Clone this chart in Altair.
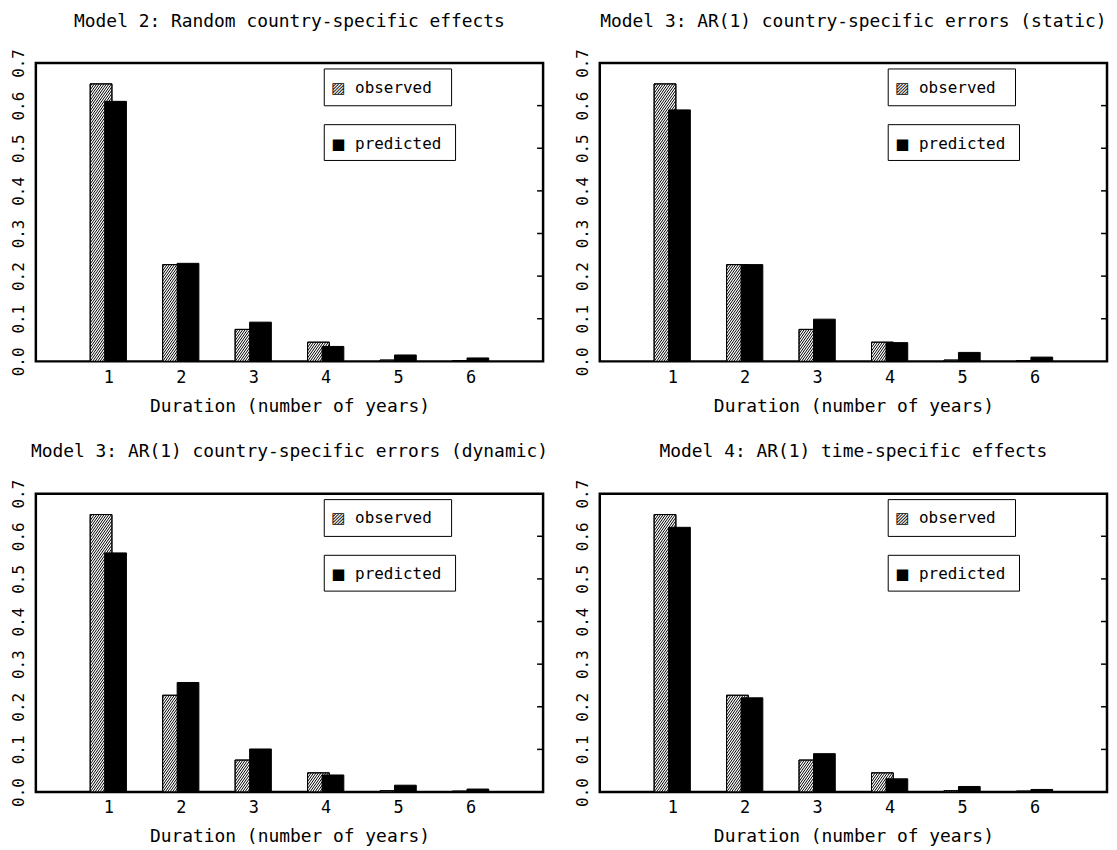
import math
import pandas as pd
import altair as alt

# ---------------- data ----------------
durations = [1, 2, 3, 4, 5, 6]
observed = [0.651, 0.227, 0.075, 0.045, 0.003, 0.002]
predicted_m2 = [0.610, 0.230, 0.092, 0.035, 0.015, 0.008]
predicted_m3_static = [0.590, 0.227, 0.099, 0.044, 0.021, 0.010]
predicted_m3_dynamic = [0.561, 0.257, 0.101, 0.040, 0.016, 0.007]
predicted_m4 = [0.621, 0.221, 0.090, 0.031, 0.013, 0.006]
titles = [
    "Model 2: Random country-specific effects",
    "Model 3: AR(1) country-specific errors (static)",
    "Model 3: AR(1) country-specific errors (dynamic)",
    "Model 4: AR(1) time-specific effects",
]
y_ticks = [0.0, 0.1, 0.2, 0.3, 0.4, 0.5, 0.6, 0.7]
x_title = "Duration (number of years)"
legend_labels = ["observed", "predicted"]

# ---------------- layout / style ----------------
W, H = 510, 300
X_DOMAIN = [0, 7]
Y_DOMAIN = [0, 0.7]
PX_X = W / (X_DOMAIN[1] - X_DOMAIN[0])
PX_Y = H / (Y_DOMAIN[1] - Y_DOMAIN[0])
OBS_OFF = (-0.25, 0.05)
PRED_OFF = (-0.05, 0.25)
HATCH_ANGLE = 55.0
HATCH_STEP = 3.5
FONT = "DejaVu Sans Mono"

xscale = alt.Scale(domain=X_DOMAIN, nice=False, zero=False)
yscale = alt.Scale(domain=Y_DOMAIN, nice=False, zero=False)

x_axis = alt.Axis(values=durations, format="d", labelAngle=0, labelFontSize=17,
                  labelPadding=8, titleFontSize=18, titlePadding=12,
                  labelFont=FONT, titleFont=FONT, titleFontWeight="normal",
                  labelColor="black", titleColor="black",
                  labelFlush=False, domain=False, ticks=False, grid=False)
y_axis = alt.Axis(values=y_ticks, format=".1f", labelAngle=270, labelAlign="center",
                  labelBaseline="bottom", labelFontSize=16, labelPadding=9,
                  labelFont=FONT, labelColor="black",
                  labelOverlap=False, domain=False, ticks=False, grid=False)


def hatch_segments(vals):
    t = math.tan(math.radians(HATCH_ANGLE))
    rows = []
    for d_, v in zip(durations, vals):
        x0 = d_ + OBS_OFF[0]
        w = (OBS_OFF[1] - OBS_OFF[0]) * PX_X
        h = v * PX_Y
        k0 = math.floor(-w * t / HATCH_STEP)
        k1 = math.ceil(h / HATCH_STEP)
        for k in range(k0, k1 + 1):
            c = k * HATCH_STEP
            u_lo = max(0.0, -c / t)
            u_hi = min(w, (h - c) / t)
            if u_hi - u_lo > 0.05:
                rows.append(dict(hx0=x0 + u_lo / PX_X, hy0=(t * u_lo + c) / PX_Y,
                                 hx1=x0 + u_hi / PX_X, hy1=(t * u_hi + c) / PX_Y))
    return pd.DataFrame(rows)


def X(field):
    return alt.X(field, scale=xscale, axis=x_axis, title=x_title)


def Y(field):
    return alt.Y(field, scale=yscale, axis=y_axis, title=None)


def panel(title, pred):
    df = pd.DataFrame({"dur": durations, "obs": observed, "pred": pred})
    base = alt.Chart(df)

    obs_rect = base.transform_calculate(
        x0=f"datum.dur + ({OBS_OFF[0]})", x1=f"datum.dur + ({OBS_OFF[1]})"
    ).mark_rect(fill="white", stroke="black", strokeWidth=1).encode(
        x=X("x0:Q"), x2="x1:Q", y=Y("obs:Q"), y2=alt.datum(0)
    )
    hatch = alt.Chart(hatch_segments(observed)).mark_rule(
        color="black", strokeWidth=1
    ).encode(x=X("hx0:Q"), y=Y("hy0:Q"), x2="hx1:Q", y2="hy1:Q")
    obs_outline = base.transform_calculate(
        x0=f"datum.dur + ({OBS_OFF[0]})", x1=f"datum.dur + ({OBS_OFF[1]})"
    ).mark_rect(fillOpacity=0, stroke="black", strokeWidth=1).encode(
        x=X("x0:Q"), x2="x1:Q", y=Y("obs:Q"), y2=alt.datum(0)
    )
    pred_rect = base.transform_calculate(
        x0=f"datum.dur + ({PRED_OFF[0]})", x1=f"datum.dur + ({PRED_OFF[1]})"
    ).mark_rect(fill="black", stroke="black", strokeWidth=1).encode(
        x=X("x0:Q"), x2="x1:Q", y=Y("pred:Q"), y2=alt.datum(0)
    )
    ticks = alt.Chart(pd.DataFrame({"t": y_ticks[1:-1]})).mark_rule(
        color="black", strokeWidth=1.5
    ).encode(y=Y("t:Q"), x=alt.value(W), x2=alt.value(W - 6))

    one = pd.DataFrame({"a": [0]})
    box1 = alt.Chart(one).mark_rect(fill="white", stroke="black", strokeWidth=1).encode(
        x=alt.value(290), x2=alt.value(418), y=alt.value(6), y2=alt.value(43))
    box2 = alt.Chart(one).mark_rect(fill="white", stroke="black", strokeWidth=1).encode(
        x=alt.value(290), x2=alt.value(422), y=alt.value(62), y2=alt.value(98))
    icon1 = alt.Chart(one).mark_text(align="left", baseline="middle", font="DejaVu Sans",
                                     fontSize=15, color="black").encode(
        x=alt.value(297), y=alt.value(25), text=alt.value("\u25a8"))
    icon2 = alt.Chart(one).mark_text(align="left", baseline="middle", font="DejaVu Sans",
                                     fontSize=15, color="black").encode(
        x=alt.value(297), y=alt.value(81), text=alt.value("\u25a0"))
    lab1 = alt.Chart(one).mark_text(align="left", baseline="middle", font=FONT,
                                    fontSize=16, color="black").encode(
        x=alt.value(321), y=alt.value(25), text=alt.value(legend_labels[0]))
    lab2 = alt.Chart(one).mark_text(align="left", baseline="middle", font=FONT,
                                    fontSize=16, color="black").encode(
        x=alt.value(321), y=alt.value(81), text=alt.value(legend_labels[1]))

    return alt.layer(
        obs_rect, hatch, obs_outline, pred_rect, ticks,
        box1, box2, icon1, icon2, lab1, lab2
    ).properties(
        width=W, height=H,
        title=alt.TitleParams(title, frame="group", offset=18, anchor="middle",
                              font=FONT, fontSize=18, fontWeight="normal", color="black"),
    )


p1 = panel(titles[0], predicted_m2)
p2 = panel(titles[1], predicted_m3_static)
p3 = panel(titles[2], predicted_m3_dynamic)
p4 = panel(titles[3], predicted_m4)

chart = alt.concat(
    p1, p2, p3, p4, columns=2, spacing={"row": 133, "column": 57}, bounds="flush"
).properties(
    padding={"left": 1, "top": 1, "right": 0, "bottom": 0},
    background="white",
).configure_view(
    stroke="black", strokeWidth=2.5
)

chart.save("out.html", embed_options={"renderer": "svg", "actions": False})
